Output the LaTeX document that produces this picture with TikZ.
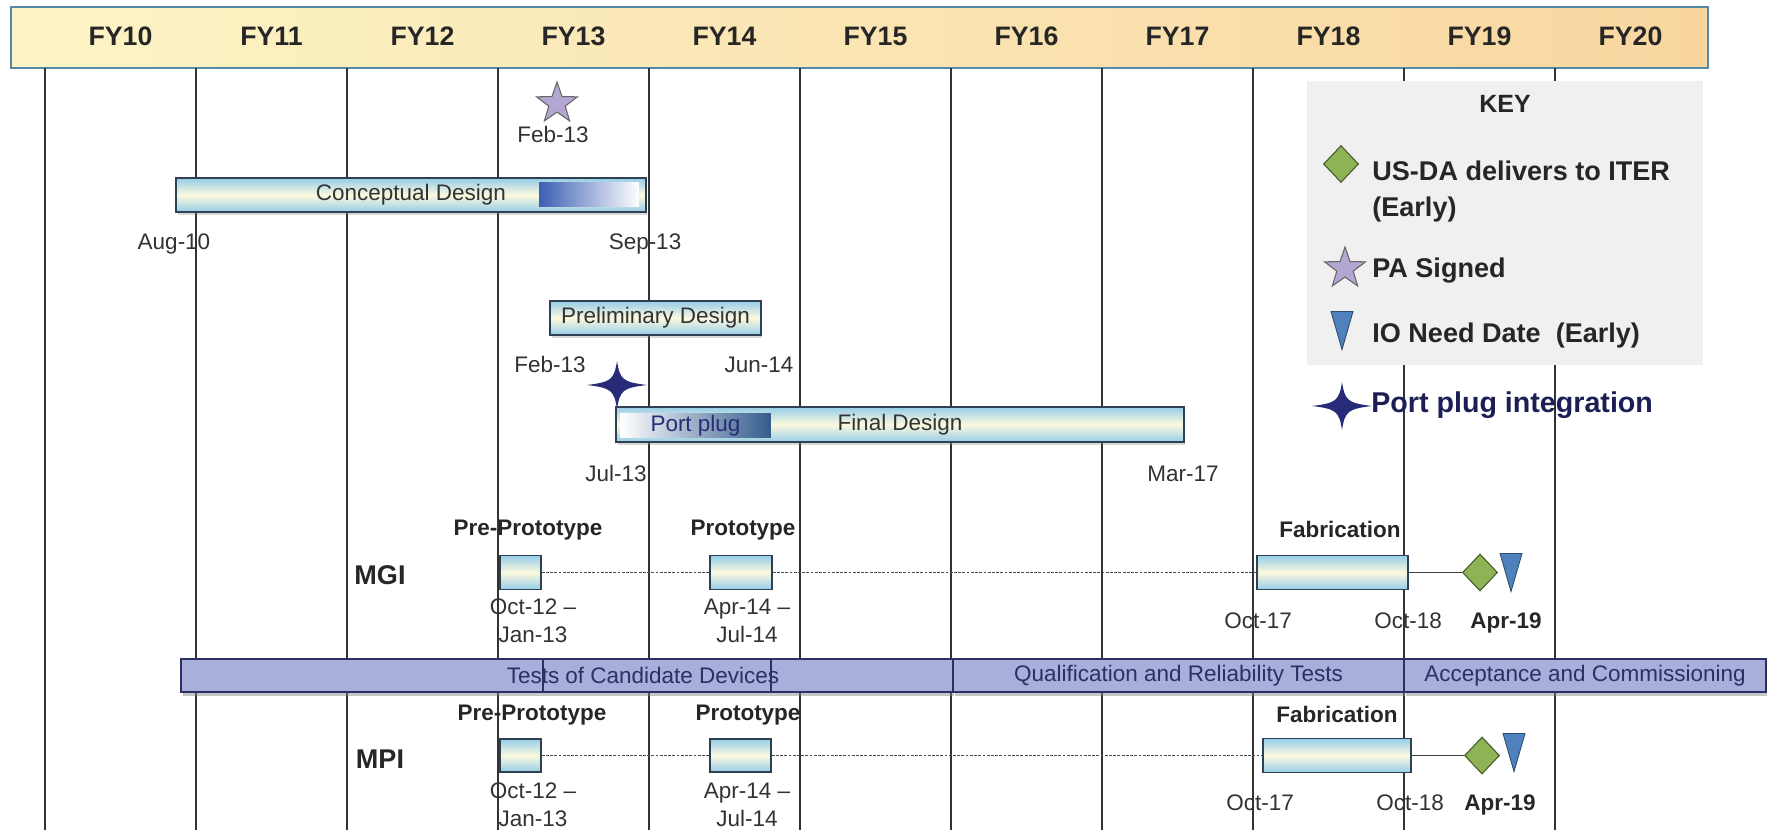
\documentclass[tikz,border=0pt]{standalone}
\usepackage{fontspec}
\setmainfont{Liberation Sans}
\usetikzlibrary{shapes.geometric}
\usetikzlibrary{shadows}

\definecolor{hdrleft}{RGB}{252,244,198}
\definecolor{hdrright}{RGB}{249,214,160}
\definecolor{hdrline}{RGB}{84,138,165}
\definecolor{barblue}{RGB}{150,205,232}
\definecolor{barcream}{RGB}{252,249,222}
\definecolor{barline}{RGB}{46,64,82}
\definecolor{testfill}{RGB}{170,174,218}
\definecolor{testline}{RGB}{44,48,100}
\definecolor{navy}{RGB}{40,44,120}
\definecolor{keygray}{RGB}{240,240,240}
\definecolor{dgreen}{RGB}{141,179,85}
\definecolor{ioblue}{RGB}{79,129,189}
\definecolor{pastar}{RGB}{180,166,210}
\definecolor{plugblue}{RGB}{52,92,140}
\definecolor{cdblue}{RGB}{60,95,180}
\definecolor{datetext}{RGB}{50,50,50}

\newcommand{\fyfont}{\fontsize{15.2}{18}\selectfont\bfseries}
\newcommand{\txtfont}{\fontsize{12.8}{15.9}\selectfont}
\newcommand{\headfont}{\fontsize{12.8}{15.9}\selectfont\bfseries}
\newcommand{\rowfont}{\fontsize{15.4}{18}\selectfont\bfseries}
\newcommand{\keyfont}{\fontsize{15.4}{21}\selectfont\bfseries}
\newcommand{\keyhead}{\fontsize{14.2}{17}\selectfont\bfseries}
\newcommand{\plugfont}{\fontsize{16.3}{19}\selectfont\bfseries}

\begin{document}
\begin{tikzpicture}[x=0.02cm,y=-0.02cm,
  fylbl/.style={font=\fyfont, text=black!85, inner sep=0},
  grid/.style={line width=0.75pt, black!80},
  phase/.style={draw=barline, line width=0.8pt, top color=barblue, bottom color=barblue, middle color=barcream, inner sep=0, minimum height=0.68cm, font=\txtfont, text=black!80},
  lifted/.style={drop shadow={shadow xshift=0.03cm, shadow yshift=-0.07cm, opacity=0.3}},
  stage/.style={draw=testline, line width=1pt, fill=testfill, inner sep=0, minimum height=0.66cm, font=\txtfont, text=testline, drop shadow={shadow xshift=0.03cm, shadow yshift=-0.09cm, opacity=0.45}},
  datelbl/.style={font=\txtfont, text=datetext, inner sep=0, anchor=base, align=center},
  headlbl/.style={font=\headfont, text=black!85, inner sep=0, anchor=base},
  rowlbl/.style={font=\rowfont, text=black!85, inner sep=0},
  deliver/.style={diamond, fill=dgreen, draw=dgreen!50!black, line width=0.6pt, inner sep=0, minimum width=0.7cm, minimum height=0.74cm},
  signed/.style={star, star points=5, star point ratio=2.5, fill=pastar, draw=black!60, line width=0.6pt, inner sep=0, minimum size=0.86cm},
  keyitem/.style={font=\keyfont, text=black!85, inner sep=0, anchor=base west, align=left},
  link/.style={dash pattern=on 1.6pt off 0.8pt, line width=0.9pt, black!70},
  ioneed/.pic={\draw[fill=ioblue, draw=ioblue!60!black, line width=0.5pt] (-11,-19) -- (11,-19) -- (0,19) -- cycle;},
  plugstar/.pic={\fill[navy] (30,0) .. controls (6,3) and (3,5) .. (0,24) .. controls (-3,5) and (-6,3) .. (-30,0) .. controls (-6,-3) and (-3,-5) .. (0,-24) .. controls (3,-5) and (6,-3) .. (30,0) -- cycle;}
]
\useasboundingbox (0,0) rectangle (1777,830);

% fiscal years
\node[draw=hdrline, line width=1.1pt, left color=hdrleft, right color=hdrright, minimum width=33.94cm, minimum height=1.22cm, inner sep=0] (hdr) at (859.5,37.5) {};
\foreach \yr [count=\i from 0] in {10,...,20}
  \node[fylbl] (fy\yr) at ({120.5+151*\i},36) {FY\yr};
\foreach \i in {0,...,10}
  \draw[grid] ({45+151*\i},68) -- ({45+151*\i},830);

% key
\node[fill=keygray, minimum width=7.92cm, minimum height=5.68cm, inner sep=0] (keybox) at (1505,223) {};
\node[font=\keyhead, text=black!85, inner sep=0] (keyttl) at (1505,104) {KEY};
\node[deliver] (kdel) at (1341,164) {};
\node[keyitem] (kdeltxt) at (1372,217) {US-DA delivers to ITER\\(Early)};
\node[signed] (kpa) at (1345,268.5) {};
\node[keyitem] (kpatxt) at (1372,278) {PA Signed};
\pic (kio) at (1342,330.5) {ioneed};
\node[keyitem] (kiotxt) at (1372,343) {IO Need Date~~(Early)};
\pic (kpp) at (1342,406) {plugstar};
\node[keyitem, font=\plugfont, text=navy!70!black] (kpptxt) at (1371,413) {Port plug integration};

% design phases
\node[signed] (pa) at (557,103.5) {};
\node[datelbl] (padate) at (553,143) {Feb-13};
\node[phase, lifted, minimum width=9.4cm] (cd) at (411,195) {Conceptual Design};
\node[left color=cdblue, right color=white, inner sep=0, minimum width=2cm, minimum height=0.48cm] (cdend) at (589,195) {};
\node[datelbl] (cdstart) at (174,250) {Aug-10};
\node[datelbl] (cdfinish) at (645,250) {Sep-13};

\node[phase, lifted, minimum width=4.22cm] (pd) at (655.5,318) {Preliminary Design};
\node[datelbl] (pdstart) at (550,373) {Feb-13};
\node[datelbl] (pdfinish) at (759,373) {Jun-14};

\pic (pp) at (617,385) {plugstar};
\node[phase, lifted, minimum width=11.36cm, minimum height=0.7cm] (fd) at (900,424.5) {Final Design};
\node[left color=white, right color=plugblue, inner sep=0, minimum width=3.02cm, minimum height=0.5cm, font=\txtfont, text=navy] (ppblock) at (695.5,425.5) {Port plug};
\node[datelbl] (fdstart) at (616,482) {Jul-13};
\node[datelbl] (fdfinish) at (1183,482) {Mar-17};

% MGI
\node[rowlbl] (mgi) at (380,575) {MGI};
\node[headlbl] (mgih1) at (528,536) {Pre-Prototype};
\node[headlbl] (mgih2) at (743,536) {Prototype};
\node[headlbl] (mgih3) at (1340,538) {Fabrication};
\node[phase, minimum width=0.82cm] (mgipre) at (520.5,572.5) {};
\node[phase, minimum width=1.24cm] (mgiproto) at (741,572.5) {};
\node[phase, minimum width=3.02cm] (mgifab) at (1332.5,572.5) {};
\node[deliver] (mgidel) at (1480,572.5) {};
\pic (mgiio) at (1511,572.5) {ioneed};
\draw[link] (mgipre) -- (mgiproto);
\draw[link] (mgiproto) -- (mgifab);
\draw[line width=0.8pt, black!75] (mgifab) -- (mgidel);
\node[datelbl] (mgid1) at (533,642) {Oct-12 –\\Jan-13};
\node[datelbl] (mgid2) at (747,642) {Apr-14 –\\Jul-14};
\node[datelbl] (mgid3) at (1258,628) {Oct-17};
\node[datelbl] (mgid4) at (1408,628) {Oct-18};
\node[datelbl, font=\headfont, text=black!85] (mgid5) at (1506,628) {Apr-19};

% tests
\node[stage, minimum width=15.44cm] (tcd) at (567,675.5) {};
\node[stage, minimum width=9.02cm] (qrt) at (1178.5,675.5) {Qualification and Reliability Tests};
\node[stage, minimum width=7.24cm] (acc) at (1585,675.5) {Acceptance and Commissioning};
\draw[testline, line width=0.8pt] (543,0 |- tcd.north) -- (543,0 |- tcd.south);
\draw[testline, line width=0.8pt] (771,0 |- tcd.north) -- (771,0 |- tcd.south);
\node[font=\txtfont, text=testline, inner sep=0] (tcdtxt) at (643,675.5) {Tests of Candidate Devices};

% MPI
\node[rowlbl] (mpi) at (380,759) {MPI};
\node[headlbl] (mpih1) at (532,720) {Pre-Prototype};
\node[headlbl] (mpih2) at (748,720) {Prototype};
\node[headlbl] (mpih3) at (1337,722) {Fabrication};
\node[phase, minimum width=0.82cm, minimum height=0.66cm] (mpipre) at (520.5,755.5) {};
\node[phase, minimum width=1.22cm, minimum height=0.66cm] (mpiproto) at (740.5,755.5) {};
\node[phase, minimum width=2.96cm] (mpifab) at (1337,755.5) {};
\node[deliver] (mpidel) at (1482,755.5) {};
\pic (mpiio) at (1514,752.5) {ioneed};
\draw[link] (mpipre) -- (mpiproto);
\draw[link] (mpiproto) -- (mpifab);
\draw[line width=0.8pt, black!75] (mpifab) -- (mpidel);
\node[datelbl] (mpid1) at (533,826) {Oct-12 –\\Jan-13};
\node[datelbl] (mpid2) at (747,826) {Apr-14 –\\Jul-14};
\node[datelbl] (mpid3) at (1260,810) {Oct-17};
\node[datelbl] (mpid4) at (1410,810) {Oct-18};
\node[datelbl, font=\headfont, text=black!85] (mpid5) at (1500,810) {Apr-19};
\end{tikzpicture}
\end{document}
